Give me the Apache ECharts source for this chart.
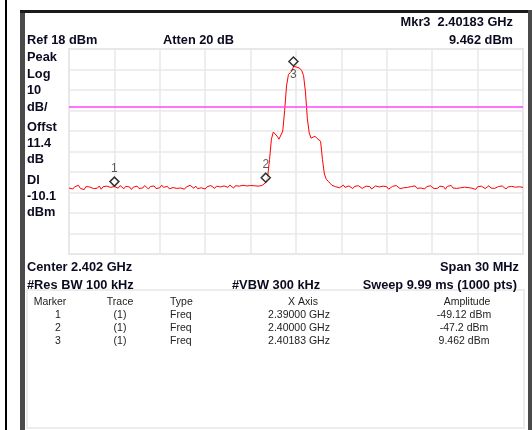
<!DOCTYPE html>
<html><head><meta charset="utf-8">
<script src="https://cdn.jsdelivr.net/npm/echarts@6/dist/echarts.min.js"></script>
<style>html,body{margin:0;padding:0;background:#fff}#c{width:532px;height:430px}</style>
</head><body><div id="c"></div>
<script>
// ---------- data ----------
const refLevelDbm = 18;
const centerGHz = 2.402;
const spanMHz = 30;
const dbPerDiv = 10;
const displayLineDbm = -10.1;

const leftFloorStartGHz = 2.387, leftFloorEndGHz = 2.3995;
const leftFloorDbm = [
-49.8,-48.9,-50.3,-49.2,-49.7,-48.5,-50.0,-49.4,-50.6,-49.1,-49.6,-49.3,-48.6,-50.1,-49.5,-49.9,-48.8,-50.4,-49.2,-49.6,-48.9,-48.3,-49.5,-49.0,-49.1,
-49.4,-49.9,-48.6,-49.5,-50.2,-49.0,-49.8,-49.3,-50.5,-49.4,-49.7,-48.9,-50.0,-49.3,-49.8,-48.6,-49.2,-50.3,-49.1,-49.6,-48.8,-50.1,-49.2,-49.7,-48.4,
-49.5,-49.9,-49.0,-50.2,-49.3,-49.6,-48.7,-50.0,-49.4,-49.8,-49.1,-50.4,-49.3,-49.6,-48.5,-49.2,-49.9,-48.9,-50.1,-49.5,-49.7,-49.0,-50.3,-49.2,-49.8,
-48.6,-49.4,-50.0,-48.9,-49.6,-49.3,-50.1,-48.8,-49.2,-49.5,-48.4,-49.1,-49.8,-48.7,-49.4,-48.9,-49.6,-48.5,-49.2,-48.8,-49.5,-48.6,-49.0,-48.7,-49.3,-48.9
];
const peakFreqGHz = [2.399625,2.39975,2.399875,2.400,2.400125,2.40025,2.400375,2.4005,2.400625,2.40075,2.400875,2.401,2.401125,2.40125,2.401375,2.4015,2.401625,2.40175,2.40183,2.402,2.402125,2.40225,2.402375,2.4025,2.402625,2.40275,2.402875,2.403,2.403125,2.40325,2.403375,2.4035,2.403625,2.40375,2.403875,2.404,2.404125,2.40425,2.404375,2.4045];
const peakDbm = [-49.2,-48.6,-48.9,-47.2,-44.5,-36,-26,-22.5,-23,-24.5,-26,-25.5,-22,-12,0,5.5,6.5,7.5,9.462,9.3,9.1,8.6,7.5,5,-3,-16,-23,-25.5,-25,-24.5,-25.5,-24.8,-27,-36,-43,-45.5,-46.5,-47.5,-48.5,-48];
const rightFloorStartGHz = 2.404625, rightFloorEndGHz = 2.417;
const rightFloorDbm = [
-49.2,-48.6,-49.7,-49.0,-48.4,-49.5,-49.9,-48.8,-49.3,-50.1,-49.0,-49.6,-48.7,-49.4,-50.0,-49.2,-48.9,-49.8,-49.1,-50.3,
-49.5,-48.8,-49.6,-49.3,-50.0,-48.9,-49.7,-49.2,-50.4,-49.5,-49.0,-49.8,-48.6,-49.4,-50.1,-49.3,-49.7,-48.9,-49.5,-50.2,
-49.1,-49.6,-48.8,-50.0,-49.4,-49.8,-49.0,-50.3,-49.2,-49.7,-48.7,-49.5,-50.1,-49.3,-49.9,-48.9,-49.6,-49.2,-50.4,-49.0,
-49.5,-48.6,-49.8,-49.3,-50.0,-49.1,-49.7,-48.8,-49.4,-50.2,-49.6,-49.0,-49.9,-49.3,-50.5,-49.2,-49.7,-48.9,-49.5,-50.1,
-49.4,-48.7,-49.8,-49.2,-50.0,-49.5,-49.1,-49.9,-48.8,-49.6,-50.3,-49.3,-49.7,-49.0,-49.8,-49.4,-50.1,-49.2,-49.6,-49.5
];

const markerIds = ['1','2','3'];
const markerFreqGHz = [2.39, 2.40, 2.40183];
const markerDbm = [-49.12, -47.2, 9.462];

const headerTopRight = ['Mkr3  2.40183 GHz', '9.462 dBm'];
const headerLeft = 'Ref 18 dBm';
const headerMid = 'Atten 20 dB';
const sideLabels = ['Peak','Log','10','dB/','Offst','11.4','dB','Dl','-10.1','dBm'];
const footerTexts = ['Center 2.402 GHz','Span 30 MHz','#Res BW 100 kHz','#VBW 300 kHz','Sweep 9.99 ms (1000 pts)'];

const tableHeader = ['Marker','Trace','Type','X Axis','Amplitude'];
const tableTrace = ['(1)','(1)','(1)'];
const tableType = ['Freq','Freq','Freq'];
const tableXAxis = ['2.39000 GHz','2.40000 GHz','2.40183 GHz'];
const tableAmp = ['-49.12 dBm','-47.2 dBm','9.462 dBm'];

// ---------- build ----------
const toX = f => (f - centerGHz) * 1000;   // MHz offset from center
const toY = a => a - refLevelDbm;           // dB below reference
const trace = [];
leftFloorDbm.forEach((a, i) => {
  const f = leftFloorStartGHz + (leftFloorEndGHz - leftFloorStartGHz) * i / (leftFloorDbm.length - 1);
  trace.push([toX(f), toY(a)]);
});
peakFreqGHz.forEach((f, i) => trace.push([toX(f), toY(peakDbm[i])]));
rightFloorDbm.forEach((a, i) => {
  const f = rightFloorStartGHz + (rightFloorEndGHz - rightFloorStartGHz) * i / (rightFloorDbm.length - 1);
  trace.push([toX(f), toY(a)]);
});

const FONT = '"Liberation Sans", Arial, sans-serif';
const TXT = '#0a0a20';
const bold = 'bold 12.8px ' + FONT;
const graphics = [];
const rect = (x, y, w, h, fill) => graphics.push({type:'rect', shape:{x, y, width:w, height:h}, style:{fill}, silent:true});
const text = (s, x, y, align, font, color) => graphics.push({type:'text', x, y, style:{text:s, font, fill:color || TXT, textAlign:align, textVerticalAlign:'middle'}, silent:true});

rect(5, 0, 2, 430, '#000');
rect(20, 10, 5, 420, '#4a4a4a');
rect(20, 10, 512, 3, '#1a1a1a');
rect(528, 10, 4, 420, '#4a4a4a');
graphics.push({type:'rect', shape:{x:27, y:290, width:497, height:138}, style:{fill:'none', stroke:'#ececec', lineWidth:2}, silent:true});

text(headerTopRight[0], 513, 22, 'right', bold);
text(headerTopRight[1], 513, 40, 'right', bold);
text(headerLeft, 27, 40, 'left', bold);
text(headerMid, 163, 40, 'left', bold);
const sideY = [57, 74, 90.5, 107, 127.5, 143.5, 159.5, 180, 196.5, 212];
sideLabels.forEach((s, i) => text(s, 27, sideY[i], 'left', bold));
text(footerTexts[0], 27, 267.5, 'left', bold);
text(footerTexts[1], 519, 267.5, 'right', bold);
text(footerTexts[2], 27, 285.5, 'left', bold);
text(footerTexts[3], 232, 285.5, 'left', bold);
text(footerTexts[4], 517, 285.5, 'right', bold);

const small = '10.5px ' + FONT;
const tcol = '#222';
const hdrY = 302, rowY = [315, 328, 341];
text(tableHeader[0], 50, hdrY, 'center', small, tcol);
text(tableHeader[1], 120, hdrY, 'center', small, tcol);
text(tableHeader[2], 170, hdrY, 'left', small, tcol);
text(tableHeader[3], 303, hdrY, 'center', small, tcol);
text(tableHeader[4], 467, hdrY, 'center', small, tcol);
markerIds.forEach((m, i) => {
  text(m, 58, rowY[i], 'center', small, tcol);
  text(tableTrace[i], 120, rowY[i], 'center', small, tcol);
  text(tableType[i], 170, rowY[i], 'left', small, tcol);
  text(tableXAxis[i], 299, rowY[i], 'center', small, tcol);
  text(tableAmp[i], 464, rowY[i], 'center', small, tcol);
});

const gridLine = {show:true, lineStyle:{color:'#e9e9e9', width:1.5}};
const chart = echarts.init(document.getElementById('c'), null, {renderer:'canvas'});
chart.setOption({
  animation:false,
  backgroundColor:'#fff',
  grid:{left:69, top:49, width:454, height:205, show:true, borderColor:'#e6e6e6', borderWidth:2, backgroundColor:'transparent'},
  xAxis:{type:'value', min:-spanMHz/2, max:spanMHz/2, interval:spanMHz/10,
    axisLine:{show:false}, axisTick:{show:false}, axisLabel:{show:false}, splitLine:gridLine},
  yAxis:{type:'value', min:-10*dbPerDiv, max:0, interval:dbPerDiv,
    axisLine:{show:false}, axisTick:{show:false}, axisLabel:{show:false}, splitLine:gridLine},
  series:[
    {type:'line', data:trace, showSymbol:false, symbol:'none', z:3,
     lineStyle:{color:'#ff0000', width:1},
     markLine:{silent:true, symbol:['none','none'], label:{show:false},
       lineStyle:{color:'#ff44ff', width:1.5, type:'solid'},
       data:[{yAxis: toY(displayLineDbm)}]}},
    {type:'scatter', z:5, symbol:'diamond', symbolSize:9, symbolOffset:[0,-5],
     itemStyle:{color:'#ffffff', borderColor:'#000', borderWidth:1.5},
     data: markerIds.map((m, i) => ({value:[toX(markerFreqGHz[i]), toY(markerDbm[i])],
        label:{show:true, formatter:m, position: i === 2 ? 'bottom' : 'top', distance:2,
               font:'bold 7px ' + FONT, color:'#333'}}))}
  ],
  graphic:graphics
});
</script></body></html>
